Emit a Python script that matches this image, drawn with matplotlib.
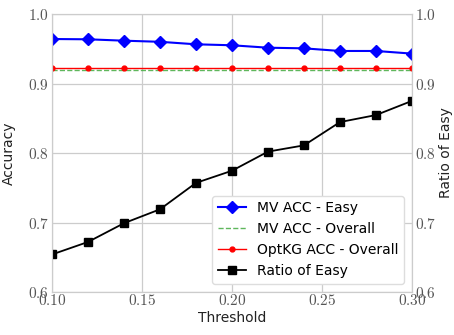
import matplotlib
matplotlib.use('Agg')
import matplotlib.pyplot as plt
import numpy as np

plt.rcParams['mathtext.fontset'] = 'cm'
plt.rcParams['font.family'] = 'DejaVu Sans'

# data
threshold = [0.10, 0.12, 0.14, 0.16, 0.18, 0.20, 0.22, 0.24, 0.26, 0.28, 0.30]
mv_easy = [0.964, 0.9636, 0.9616, 0.960, 0.9564, 0.955, 0.9515, 0.9506, 0.9468, 0.9468, 0.943]
mv_overall = [0.920] * len(threshold)
optkg_overall = [0.9225] * len(threshold)
ratio_easy = [0.654, 0.672, 0.699, 0.719, 0.757, 0.7745, 0.802, 0.811, 0.8445, 0.8546, 0.875]

xticks = [0.10, 0.15, 0.20, 0.25, 0.30]
yticks = [0.6, 0.7, 0.8, 0.9, 1.0]

grey = '#cccccc'
tick_col = '#555555'

fig = plt.figure(figsize=(4.54, 3.35), dpi=100)
ax = fig.add_axes([52 / 454, 1 - 292 / 335, 360 / 454, 278 / 335])
ax2 = ax.twinx()

l1, = ax.plot(threshold, mv_easy, color='blue', marker='D', markersize=6, lw=1.5, label='MV ACC - Easy')
l2, = ax.plot(threshold, mv_overall, color='#4daf4a', ls='--', lw=1.0, alpha=0.9, label='MV ACC - Overall')
l3, = ax.plot(threshold, optkg_overall, color='red', marker='o', markersize=3.5, lw=1.0, label='OptKG ACC - Overall')
l4, = ax2.plot(threshold, ratio_easy, color='black', marker='s', markersize=6, lw=1.3, label='Ratio of Easy')

for a in (ax, ax2):
    a.set_xlim(0.10, 0.30)
    a.set_ylim(0.6, 1.0)
    a.set_yticks(yticks)
    a.set_yticklabels(['$%.1f$' % v for v in yticks], fontsize=11, color=tick_col)
    for s in a.spines.values():
        s.set_color(grey)
    a.tick_params(length=0, pad=2)
ax.set_xticks(xticks)
ax.set_xticklabels(['$%.2f$' % v for v in xticks], fontsize=11, color=tick_col)
ax.tick_params(axis='x', pad=1)
ax.grid(True, color=grey, lw=0.9)
ax.set_axisbelow(True)

ax.set_xlabel('Threshold', fontsize=10, color='#222222', labelpad=2)
ax.set_ylabel('Accuracy', fontsize=10, color='#222222')
ax2.set_ylabel('Ratio of Easy', fontsize=10, color='#222222')
ax.yaxis.set_label_coords(-0.1, 0.5)
ax2.yaxis.set_label_coords(1.075, 0.5)

leg = ax2.legend(handles=[l1, l2, l3, l4], loc='lower right', fontsize=10,
                 frameon=True, framealpha=1.0, edgecolor='#dddddd', borderaxespad=0.6)

fig.savefig('out.png', dpi=100)
